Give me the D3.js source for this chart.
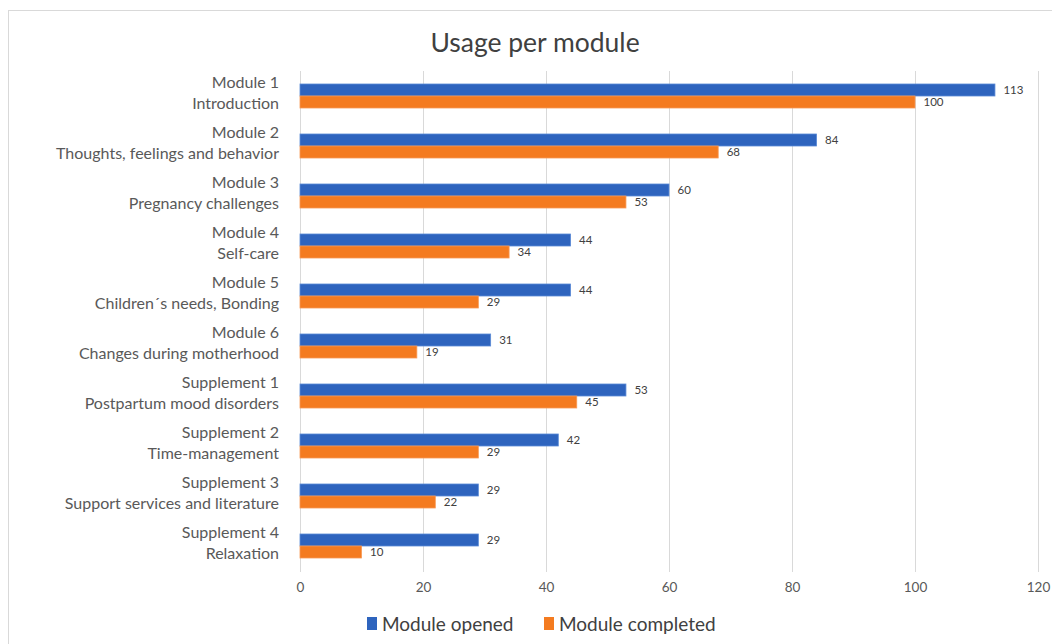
<!DOCTYPE html>
<html>
<head>
<meta charset="utf-8">
<script src="https://cdn.jsdelivr.net/npm/d3@7/dist/d3.min.js"></script>
<style>
  html, body { margin: 0; padding: 0; background: #ffffff; }
  svg { display: block; font-family: Lato, "Open Sans", sans-serif; }
</style>
</head>
<body>
<svg id="chart" width="1052" height="644"></svg>
<script>
// Module names (first line) and their topics (second line)
const moduleNames = ["Module 1", "Module 2", "Module 3", "Module 4", "Module 5", "Module 6",
  "Supplement 1", "Supplement 2", "Supplement 3", "Supplement 4"];
const moduleTopics = ["Introduction", "Thoughts, feelings and behavior", "Pregnancy challenges",
  "Self-care", "Children´s needs, Bonding", "Changes during motherhood",
  "Postpartum mood disorders", "Time-management", "Support services and literature", "Relaxation"];
const seriesNames = ["Module opened", "Module completed"];
const opened = [113, 84, 60, 44, 44, 31, 53, 42, 29, 29];
const completed = [100, 68, 53, 34, 29, 19, 45, 29, 22, 10];
const xTicks = [0, 20, 40, 60, 80, 100, 120];

const colors = ["#2e64be", "#f47b20"];
const outline = ["#5b8ad6", "#f89a55"];

const svg = d3.select("#chart");
const W = 1052, H = 644;

// Chart frame
svg.append("rect")
  .attr("x", 8.5).attr("y", 10.5)
  .attr("width", W + 20).attr("height", H + 20)
  .attr("fill", "#ffffff").attr("stroke", "#d9d9d9").attr("stroke-width", 1);

const x = d3.scaleLinear().domain([0, 120]).range([300, 1038]);
const y = d3.scaleBand().domain(moduleNames).range([71, 571]).paddingInner(0).paddingOuter(0);
const inner = d3.scaleBand().domain(seriesNames).range([y.bandwidth() / 2 - 12, y.bandwidth() / 2 + 12]);

// Title
svg.append("text")
  .attr("x", 535).attr("y", 52)
  .attr("text-anchor", "middle")
  .attr("font-size", 26.5).attr("fill", "#404040")
  .text("Usage per module");

// Vertical gridlines
const grid = svg.append("g");
grid.selectAll("line").data(xTicks).join("line")
  .attr("x1", d => Math.round(x(d)) + 0.5).attr("x2", d => Math.round(x(d)) + 0.5)
  .attr("y1", 71).attr("y2", 572)
  .attr("stroke", "#d9d9d9").attr("stroke-width", 1);

// X axis tick labels
const xAxis = d3.axisBottom(x).tickValues(xTicks).tickSize(0).tickPadding(0);
const gx = svg.append("g").attr("transform", "translate(0,582)").call(xAxis);
gx.select(".domain").remove();
gx.selectAll("text")
  .attr("font-family", "Lato, 'Open Sans', sans-serif")
  .attr("font-size", 13.5).attr("fill", "#595959")
  .attr("dy", "0.71em");

// Category labels, two lines each
const labels = svg.append("g");
moduleNames.forEach((name, i) => {
  const cy = y(name) + y.bandwidth() / 2;
  const t = labels.append("text")
    .attr("text-anchor", "end")
    .attr("font-size", 16).attr("fill", "#595959");
  t.append("tspan").attr("x", 279).attr("y", cy - 8).text(name);
  t.append("tspan").attr("x", 279).attr("y", cy + 13).text(moduleTopics[i]);
});

// Bars
const rows = moduleNames.map((name, i) => ({ name, values: [opened[i], completed[i]] }));
const groups = svg.append("g").selectAll("g").data(rows).join("g")
  .attr("transform", d => `translate(0,${y(d.name)})`);

groups.selectAll("rect")
  .data(d => d.values.map((v, k) => ({ v, k })))
  .join("rect")
  .attr("x", x(0))
  .attr("y", d => inner(seriesNames[d.k]))
  .attr("width", d => x(d.v) - x(0))
  .attr("height", inner.bandwidth())
  .attr("fill", d => colors[d.k])
  .attr("stroke", d => outline[d.k])
  .attr("stroke-width", 0.8);

// Value labels
groups.selectAll("text.val")
  .data(d => d.values.map((v, k) => ({ v, k })))
  .join("text")
  .attr("class", "val")
  .attr("x", d => x(d.v) + 8.5)
  .attr("y", d => inner(seriesNames[d.k]) + inner.bandwidth() / 2)
  .attr("dy", "0.35em")
  .attr("font-size", 11.5).attr("fill", "#404040")
  .text(d => d.v);

// Legend
const legend = svg.append("g").attr("transform", "translate(367,617)");
const legendX = [0, 177];
seriesNames.forEach((s, k) => {
  const g = legend.append("g").attr("transform", `translate(${legendX[k]},0)`);
  g.append("rect").attr("x", 0).attr("y", 0).attr("width", 10).attr("height", 13)
    .attr("fill", colors[k]);
  g.append("text").attr("x", 15).attr("y", 7).attr("dy", "0.36em")
    .attr("font-size", 19).attr("fill", "#404040").text(s);
});
</script>
</body>
</html>
